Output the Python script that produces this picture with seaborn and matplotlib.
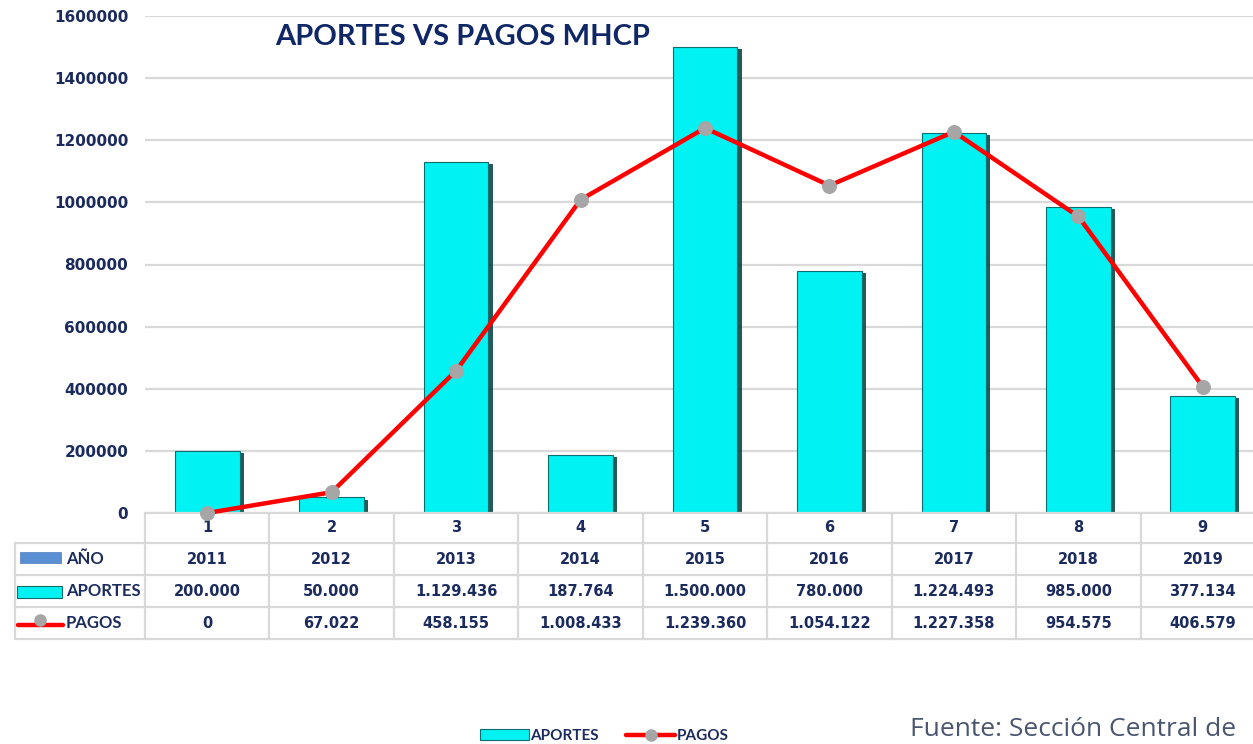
import numpy as np
import pandas as pd
import matplotlib
matplotlib.use("Agg")
import matplotlib.pyplot as plt
import matplotlib.patheffects as pe
from matplotlib.lines import Line2D
from matplotlib.patches import Rectangle, Patch
from matplotlib.transforms import blended_transform_factory
import seaborn as sns

# Data
periodos = ["1", "2", "3", "4", "5", "6", "7", "8", "9"]
anios = [2011, 2012, 2013, 2014, 2015, 2016, 2017, 2018, 2019]
aportes = [200000, 50000, 1129436, 187764, 1500000, 780000, 1224493, 985000, 377134]
pagos = [0, 67022, 458155, 1008433, 1239360, 1054122, 1227358, 954575, 406579]

W, H = 1253, 744
NAVY = "#1B2B5E"
TITLE_NAVY = "#0F2766"
GRID = "#D9D9D9"
CYAN = "#00F2F2"
RED = "#FF0000"
GRAY = "#A6A6A6"

sns.set_style("white")
plt.rcParams["font.family"] = ["DejaVu Sans"]


def fx(px):
    return px / W


def fy(py):
    return 1 - py / H


def miles(v):
    return f"{v:,}".replace(",", ".")


df = pd.DataFrame({"periodo": periodos, "aportes": aportes})

fig = plt.figure(figsize=(W / 100, H / 100), dpi=100)
ax = fig.add_axes([fx(145), fy(513), fx(1265) - fx(145), fy(16) - fy(513)])

# Bars
sns.barplot(data=df, x="periodo", y="aportes", order=periodos, color=CYAN,
            width=0.52, edgecolor="#0C6E6E", linewidth=0.8, saturation=1, ax=ax, zorder=2)
for bar in ax.patches:
    bar.set_path_effects([pe.SimplePatchShadow(offset=(3, -1.5), shadow_rgbFace="#003C3C", alpha=0.85),
                          pe.Normal()])

# Line
x_pos = np.arange(len(periodos))
sns.lineplot(x=x_pos, y=pagos, ax=ax, color=RED, linewidth=3.2, marker="o",
             markersize=10, markerfacecolor=GRAY, markeredgecolor=GRAY, zorder=4,
             clip_on=False)

ax.set_xlim(-0.5, len(periodos) - 0.5)
ax.set_ylim(0, 1600000)
ax.set_yticks(np.arange(0, 1600001, 200000))
ax.set_yticklabels([str(v) for v in np.arange(0, 1600001, 200000)],
                   fontsize=11, fontweight="bold", color=NAVY)
ax.tick_params(axis="y", length=0, pad=12)
ax.set_xticks([])
ax.set_xlabel("")
ax.set_ylabel("")
ax.grid(axis="y", color=GRID, linewidth=1.6, zorder=0)
ax.set_axisbelow(True)
for s in ax.spines.values():
    s.set_visible(False)

# Title
fig.text(fx(275), fy(37), "APORTES VS PAGOS MHCP", fontsize=21, fontweight="bold",
         color=TITLE_NAVY, family=["Lato", "DejaVu Sans"], ha="left", va="center")

# Data table below the chart
tr = blended_transform_factory(ax.transData, fig.transFigure)
row_y = [528, 559, 591, 623]
for i in range(len(periodos)):
    ax.text(i, fy(row_y[0]), periodos[i], transform=tr, ha="center", va="center",
            fontsize=10.5, fontweight="bold", color=NAVY)
    ax.text(i, fy(row_y[1]), str(anios[i]), transform=tr, ha="center", va="center",
            fontsize=10.5, fontweight="bold", color=NAVY)
    ax.text(i, fy(row_y[2]), miles(aportes[i]), transform=tr, ha="center", va="center",
            fontsize=10.5, fontweight="bold", color=NAVY)
    ax.text(i, fy(row_y[3]), miles(pagos[i]), transform=tr, ha="center", va="center",
            fontsize=10.5, fontweight="bold", color=NAVY)

# table grid lines
for b in np.arange(len(periodos) + 1) - 0.5:
    ax.add_line(Line2D([b, b], [fy(513), fy(639)], transform=tr, color=GRID,
                       linewidth=1.6, clip_on=False))
ax.add_line(Line2D([-0.5, len(periodos) - 0.5], [fy(513), fy(513)], transform=tr,
                   color=GRID, linewidth=1.6, clip_on=False))
for py in [543, 575, 607, 639]:
    fig.add_artist(Line2D([fx(15), 1.02], [fy(py), fy(py)], color=GRID, linewidth=1.6))
fig.add_artist(Line2D([fx(15), fx(15)], [fy(543), fy(639)], color=GRID, linewidth=1.6))

# row labels with keys
fig.add_artist(Rectangle((fx(20), fy(563)), fx(41), fy(552) - fy(563),
                         facecolor="#5B8FD4", edgecolor="#4A7CC0", linewidth=0.5))
fig.add_artist(Rectangle((fx(17), fy(598)), fx(45), fy(586) - fy(598),
                         facecolor=CYAN, edgecolor="#0C6E6E", linewidth=0.8))
fig.add_artist(Line2D([fx(18), fx(63)], [fy(625), fy(625)], color=RED, linewidth=3.2))
fig.add_artist(Line2D([fx(40)], [fy(620)], marker="o", markersize=8, color=GRAY))
for label, py in zip(["AÑO", "APORTES", "PAGOS"], row_y[1:]):
    fig.text(fx(66), fy(py), label, fontsize=12, fontweight="bold", color=NAVY,
             family=["Lato", "DejaVu Sans"], ha="left", va="center")

# Bottom legend
handles = [Patch(facecolor=CYAN, edgecolor="#0C6E6E", linewidth=0.8),
           Line2D([], [], color=RED, linewidth=3.2, marker="o", markersize=8,
                  markerfacecolor=GRAY, markeredgecolor=GRAY)]
leg = fig.legend(handles, ["APORTES", "PAGOS"], loc="center",
                 bbox_to_anchor=(fx(604), fy(736)), ncol=2, frameon=False,
                 prop={"family": ["Lato", "DejaVu Sans"], "weight": "bold", "size": 11},
                 handlelength=3.2, handletextpad=0.1, columnspacing=1.8)
for t in leg.get_texts():
    t.set_color(NAVY)

fig.text(fx(910), fy(730), "Fuente: Sección Central de", fontsize=19,
         color="#4A5570", family=["Open Sans", "DejaVu Sans"], ha="left", va="center")

plt.savefig("out.png", dpi=100)
plt.close()
